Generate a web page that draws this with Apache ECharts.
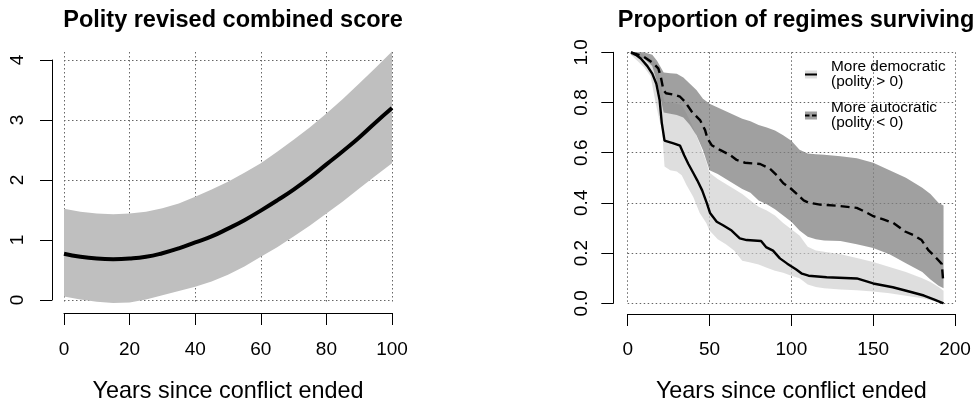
<!DOCTYPE html>
<html>
<head>
<meta charset="utf-8">
<script src="https://cdn.jsdelivr.net/npm/echarts@6/dist/echarts.min.js"></script>
<style>html,body{margin:0;padding:0;background:#fff;}#c{width:974px;height:411px;}</style>
</head>
<body>
<div id="c"></div>
<script>
// ---------- Left panel: Polity revised combined score ----------
const polityYears = [0, 5, 10, 15, 20, 25, 30, 35, 40, 45, 50, 55, 60, 65, 70, 75, 80, 85, 90, 95, 100];
const polityFit   = [0.77, 0.72, 0.69, 0.68, 0.69, 0.72, 0.78, 0.86, 0.96, 1.06, 1.19, 1.33, 1.49, 1.66, 1.84, 2.04, 2.26, 2.48, 2.71, 2.96, 3.20];
const polityLower = [0.06, 0.01, -0.03, -0.05, -0.04, 0.01, 0.08, 0.15, 0.22, 0.31, 0.42, 0.56, 0.72, 0.88, 1.06, 1.24, 1.44, 1.64, 1.86, 2.07, 2.28];
const polityUpper = [1.52, 1.47, 1.44, 1.43, 1.44, 1.47, 1.53, 1.61, 1.72, 1.84, 1.97, 2.12, 2.28, 2.47, 2.67, 2.88, 3.11, 3.35, 3.61, 3.87, 4.14];
const polityXTicks = [0, 20, 40, 60, 80, 100];
const polityYTicks = [0, 1, 2, 3, 4];

// ---------- Right panel: Proportion of regimes surviving ----------
const demLineX = [2, 5, 8, 12, 15, 17.5, 19.5, 20.8, 22.5, 28, 32, 34.5, 37, 40, 42.5, 45.5, 48.3, 50.3, 54.4, 58.5, 63.5, 68.5, 72.7, 81.5, 84.5, 88.8, 93, 97.5, 103, 106.5, 110.5, 121.6, 140, 150, 162, 172.5, 181, 187, 193];
const demLineY = [1.0, 0.99, 0.975, 0.945, 0.915, 0.875, 0.81, 0.72, 0.648, 0.637, 0.628, 0.59, 0.556, 0.52, 0.49, 0.45, 0.40, 0.36, 0.325, 0.31, 0.29, 0.259, 0.252, 0.248, 0.224, 0.21, 0.179, 0.158, 0.135, 0.118, 0.11, 0.104, 0.099, 0.079, 0.064, 0.046, 0.031, 0.016, 0.0];
const autLineX = [2, 9.6, 15.7, 18.7, 20.2, 21.8, 23.4, 28.9, 32, 35, 39.1, 44.2, 47.3, 48.7, 51.3, 56.4, 62.5, 66.6, 71.7, 80.9, 87, 91, 95.1, 99.2, 103.3, 107.5, 110.4, 117.5, 127.7, 140, 145, 150.1, 156.2, 162.3, 169.5, 174.5, 179.6, 183.7, 187.8, 191.9, 192.9];
const autLineY = [1.0, 0.983, 0.956, 0.936, 0.903, 0.85, 0.837, 0.83, 0.823, 0.803, 0.764, 0.73, 0.69, 0.657, 0.63, 0.611, 0.591, 0.571, 0.56, 0.555, 0.536, 0.511, 0.478, 0.46, 0.436, 0.41, 0.401, 0.393, 0.389, 0.38, 0.365, 0.347, 0.334, 0.32, 0.286, 0.272, 0.252, 0.212, 0.186, 0.157, 0.08];

const demBandX     = [2, 6, 10, 14, 17, 19, 21, 22.5, 26, 30, 33, 36, 40, 44, 48, 50, 55, 60, 65, 70, 75, 80, 85, 90, 95, 100, 105, 110, 115, 120, 130, 140, 150, 160, 170, 180, 185, 190, 193];
const demBandUpper = [1.0, 1.0, 0.99, 0.975, 0.96, 0.92, 0.85, 0.80, 0.80, 0.795, 0.79, 0.755, 0.70, 0.635, 0.565, 0.52, 0.495, 0.475, 0.455, 0.435, 0.41, 0.385, 0.37, 0.35, 0.32, 0.295, 0.27, 0.225, 0.21, 0.205, 0.195, 0.18, 0.165, 0.145, 0.125, 0.1, 0.085, 0.065, 0.05];
const demBandLower = [0.99, 0.965, 0.94, 0.905, 0.8, 0.74, 0.69, 0.545, 0.53, 0.525, 0.51, 0.47, 0.425, 0.36, 0.32, 0.29, 0.255, 0.235, 0.21, 0.17, 0.163, 0.155, 0.142, 0.13, 0.122, 0.11, 0.1, 0.075, 0.065, 0.06, 0.055, 0.052, 0.047, 0.04, 0.03, 0.02, 0.012, 0.005, 0.0];

const autBandX     = [2, 10, 15, 18, 22, 26, 30, 34, 38, 42, 46, 50, 55, 60, 65, 70, 75, 80, 85, 90, 95, 100, 105, 110, 115, 120, 130, 140, 150, 160, 170, 180, 185, 190, 193];
const autBandUpper = [1.0, 1.0, 0.99, 0.965, 0.92, 0.917, 0.915, 0.9, 0.875, 0.85, 0.815, 0.795, 0.78, 0.765, 0.75, 0.735, 0.725, 0.71, 0.70, 0.688, 0.67, 0.648, 0.612, 0.597, 0.594, 0.592, 0.586, 0.578, 0.56, 0.53, 0.5, 0.46, 0.435, 0.4, 0.39];
const autBandLower = [0.99, 0.975, 0.945, 0.88, 0.76, 0.755, 0.75, 0.74, 0.71, 0.67, 0.61, 0.53, 0.515, 0.495, 0.475, 0.455, 0.44, 0.41, 0.395, 0.375, 0.35, 0.325, 0.29, 0.265, 0.255, 0.25, 0.248, 0.235, 0.22, 0.195, 0.16, 0.125, 0.095, 0.07, 0.06];

const survXTicks = [0, 50, 100, 150, 200];
const survYTicks = [0.0, 0.2, 0.4, 0.6, 0.8, 1.0];
const legendNames = ['More democratic\n(polity > 0)', 'More autocratic\n(polity < 0)'];

// ---------- build ----------
const FONT = '"Liberation Sans", Arial, Helvetica, sans-serif';
const zip = (xs, ys) => xs.map((x, i) => [x, ys[i]]);
const gridDot = { show: true, lineStyle: { color: '#666', type: [1.5, 2.5], width: 1 } };
const noLine = { show: false };
const axLine = { show: true, onZero: false, lineStyle: { color: '#000', width: 1 } };
const axTick = { show: true, length: 12, lineStyle: { color: '#000', width: 1 } };

// confidence band drawn as a polygon through the axes' scales
function bandSeries(name, axisIdx, xs, lo, hi, fill, legendColor, z) {
  return {
    name, type: 'custom', xAxisIndex: axisIdx, yAxisIndex: axisIdx, z, silent: true,
    itemStyle: { color: legendColor, borderWidth: 0 },
    data: xs.map((x, i) => [x, lo[i], hi[i]]),
    encode: { x: 0, y: [1, 2] },
    renderItem: (params, api) => {
      if (params.dataIndex !== 0) return null;
      const pts = [];
      for (let i = 0; i < xs.length; i++) pts.push(api.coord([xs[i], hi[i]]));
      for (let i = xs.length - 1; i >= 0; i--) pts.push(api.coord([xs[i], lo[i]]));
      return { type: 'polygon', shape: { points: pts }, style: { fill: fill, stroke: null } };
    }
  };
}

const chart = echarts.init(document.getElementById('c'), null, { renderer: 'canvas' });

const option = {
  animation: false,
  backgroundColor: '#fff',
  textStyle: { fontFamily: FONT },
  title: [
    { text: 'Polity revised combined score', left: 228, top: 4, textAlign: 'center',
      textStyle: { fontFamily: FONT, fontSize: 23.5, fontWeight: 'bold', color: '#000' } },
    { text: 'Proportion of regimes surviving', left: 791, top: 4, textAlign: 'center',
      textStyle: { fontFamily: FONT, fontSize: 23.5, fontWeight: 'bold', color: '#000' } }
  ],
  grid: [
    { left: 64, top: 52, width: 328, height: 251, outerBoundsMode: 'none', containLabel: false },
    { left: 64, top: 60, width: 328, height: 240, outerBoundsMode: 'none', containLabel: false },
    { left: 627.7, top: 52.3, width: 327.3, height: 251, outerBoundsMode: 'none', containLabel: false }
  ],
  xAxis: [
    { gridIndex: 0, type: 'value', min: polityXTicks[0], max: polityXTicks[polityXTicks.length - 1], interval: 20,
      axisLine: noLine, axisTick: noLine, axisLabel: noLine, splitLine: gridDot },
    { gridIndex: 1, type: 'value', min: polityXTicks[0], max: polityXTicks[polityXTicks.length - 1], interval: 20,
      position: 'bottom', offset: 13, axisLine: axLine, axisTick: axTick,
      axisLabel: { show: true, margin: 27, fontSize: 19, color: '#000', fontFamily: FONT },
      splitLine: noLine,
      name: 'Years since conflict ended', nameLocation: 'middle', nameGap: 67,
      nameTextStyle: { fontSize: 23.4, color: '#000', fontFamily: FONT } },
    { gridIndex: 2, type: 'value', min: survXTicks[0], max: survXTicks[survXTicks.length - 1], interval: 50,
      position: 'bottom', offset: 10.7, axisLine: axLine, axisTick: axTick,
      axisLabel: { show: true, margin: 26, fontSize: 19, color: '#000', fontFamily: FONT },
      splitLine: gridDot,
      name: 'Years since conflict ended', nameLocation: 'middle', nameGap: 66,
      nameTextStyle: { fontSize: 23.4, color: '#000', fontFamily: FONT } }
  ],
  yAxis: [
    { gridIndex: 0, type: 'value', min: -0.05, max: 4.1333, show: false, splitLine: noLine },
    { gridIndex: 1, type: 'value', min: polityYTicks[0], max: polityYTicks[polityYTicks.length - 1], interval: 1,
      position: 'left', offset: 12, axisLine: axLine, axisTick: axTick,
      axisLabel: { show: true, rotate: 90, margin: 25, fontSize: 19, color: '#000', fontFamily: FONT },
      splitLine: gridDot },
    { gridIndex: 2, type: 'value', min: survYTicks[0], max: survYTicks[survYTicks.length - 1], interval: 0.2,
      position: 'left', offset: 14.4, axisLine: axLine, axisTick: axTick,
      axisLabel: { show: true, rotate: 90, margin: 22, fontSize: 19, color: '#000', fontFamily: FONT,
        formatter: v => v.toFixed(1) },
      splitLine: gridDot }
  ],
  legend: {
    data: legendNames,
    left: 805, top: 59.5, orient: 'vertical', icon: 'rect',
    itemWidth: 12, itemHeight: 8, itemGap: 11, padding: 0, selectedMode: false,
    itemStyle: { borderWidth: 0 },
    textStyle: { fontSize: 15.4, lineHeight: 15, color: '#000', fontFamily: FONT, padding: [0, 0, 0, 9] }
  },
  graphic: [
    { type: 'line', z: 100, shape: { x1: 805, y1: 74.5, x2: 817, y2: 74.5 }, style: { stroke: '#000', lineWidth: 2 } },
    { type: 'line', z: 100, shape: { x1: 805, y1: 115.5, x2: 817, y2: 115.5 }, style: { stroke: '#000', lineWidth: 2, lineDash: [4.5, 2.5] } }
  ],
  series: [
    bandSeries('polity-band', 0, polityYears, polityLower, polityUpper, '#bfbfbf', '#bfbfbf', 1),
    { name: 'polity-fit', type: 'line', xAxisIndex: 0, yAxisIndex: 0,
      data: zip(polityYears, polityFit), smooth: true, symbol: 'none',
      lineStyle: { color: '#000', width: 4 }, z: 3 },

    bandSeries(legendNames[0], 2, demBandX, demBandLower, demBandUpper, 'rgba(204,204,204,0.65)', '#dedede', 1),
    bandSeries(legendNames[1], 2, autBandX, autBandLower, autBandUpper, 'rgba(128,128,128,0.75)', '#a0a0a0', 2),

    { name: 'dem-line', type: 'line', xAxisIndex: 2, yAxisIndex: 2,
      data: zip(demLineX, demLineY), symbol: 'none', lineStyle: { color: '#000', width: 2.4 }, z: 4 },
    { name: 'aut-line', type: 'line', xAxisIndex: 2, yAxisIndex: 2,
      data: zip(autLineX, autLineY), symbol: 'none', lineStyle: { color: '#000', width: 2.4, type: [9, 5] }, z: 4 }
  ]
};
chart.setOption(option);
</script>
</body>
</html>
